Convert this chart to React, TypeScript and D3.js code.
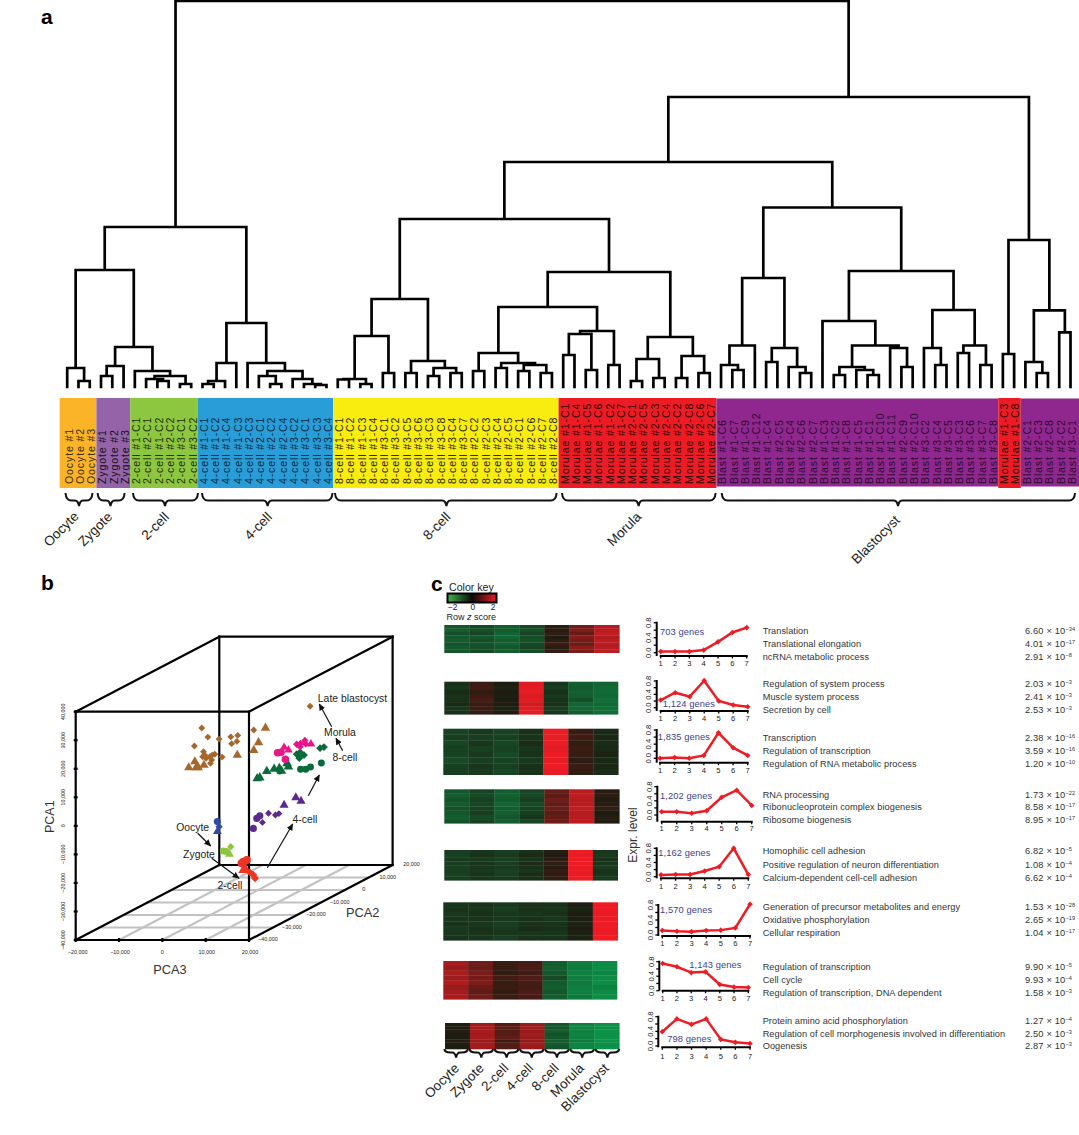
import * as d3 from 'd3'

const FONT = '"Liberation Sans", Arial, sans-serif'

// ---------- panel a: clustering ----------
const oocyteCells = ['Oocyte #1', 'Oocyte #2', 'Oocyte #3']
const zygoteCells = ['Zygote #1', 'Zygote #2', 'Zygote #3']
const twoCells = ['#1-C1', '#2-C1', '#1-C2', '#2-C2', '#3-C1', '#3-C2'].map(s => '2-cell ' + s)
const fourCells = ['#1-C1', '#1-C2', '#1-C4', '#1-C3', '#2-C3', '#2-C1', '#2-C2', '#2-C4', '#3-C2', '#3-C1', '#3-C3', '#3-C4'].map(s => '4-cell ' + s)
const eightCells = ['#1-C1', '#1-C2', '#1-C3', '#1-C4', '#3-C1', '#3-C2', '#3-C5', '#3-C6', '#3-C3', '#3-C8', '#3-C4', '#3-C7', '#2-C2', '#2-C3', '#2-C4', '#2-C5', '#2-C1', '#2-C6', '#2-C7', '#2-C8'].map(s => '8-cell ' + s)
const moruleCells = ['#1-C1', '#1-C4', '#1-C5', '#1-C6', '#1-C2', '#1-C7', '#2-C1', '#2-C5', '#2-C3', '#2-C4', '#2-C2', '#2-C8', '#2-C6', '#2-C7'].map(s => 'Morulae ' + s)
const blastCells = ['#1-C6', '#1-C7', '#1-C9', '#1-C12', '#1-C4', '#2-C5', '#2-C4', '#2-C6', '#2-C7', '#1-C3', '#1-C2', '#1-C8', '#1-C5', '#1-C1', '#1-C10', '#1-C11', '#2-C9', '#2-C10', '#3-C2', '#3-C4', '#3-C5', '#3-C3', '#3-C6', '#3-C7', '#3-C8'].map(s => 'Blast ' + s)
const strayMorule = ['#1-C3', '#1-C8'].map(s => 'Morulae ' + s)
const lastBlast = ['#2-C1', '#2-C3', '#2-C8', '#2-C2', '#3-C1'].map(s => 'Blast ' + s)

const cellGroups = [oocyteCells, zygoteCells, twoCells, fourCells, eightCells, moruleCells, blastCells, strayMorule, lastBlast]
const leafNames = cellGroups.flat()
const groupFill = ['#fbb327', '#9463a8', '#8dc63f', '#289dd8', '#f9ed0f', '#ed1c24', '#90278e', '#ed1c24', '#90278e']
const groupInk = ['#3a3010', '#1a1020', '#1e3010', '#0c2c44', '#2a2800', '#300808', '#2c0c30', '#300808', '#2c0c30']

// [height, child, child], leaves are indexes into leafNames
const tree: any = [386,
  [160,
    [117,
      [19, 0, [6, 1, 2]],
      [40,
        [21, [11, 3, 4], 5],
        [16, 6, [11, [8, 7, [6, 8, 9]], [3, 10, 11]]]]],
    [64,
      [24, [6, [3, 12, 13], 14], 15],
      [24, 16, [16, [11, 17, [3, 18, 19]], [8, 20, [3, 21, [2, 22, 23]]]]]]],
  [290,
    [225,
      [168,
        [88,
          [51, [8, [7.5, 24, 25], [3, 26, 27]], [14, 28, 29]],
          [26, [14, 30, 31], [19, [11, 32, 33], [14, 34, 35]]]],
        [115,
          [80,
            [34, [16, 36, 37], [24, [19, 38, 39], [22, [16, 40, 41], [14, 42, 43]]]],
            [56, [53, [32, 44, 45], [17, 46, 47]], [22, 48, 49]]],
          [50,
            [28, [6, 50, 51], [9, 52, 53]],
            [31, [9, 54, 55], [14, 56, 57]]]]],
      [179.5,
        [109,
          [41.5, [22, 58, [17, 59, 60]], 61],
          [39, [25, 62, 63], [20, 64, [14, 65, 66]]]],
        [116,
          [66, 67, [41.5, [20, [12, 68, 69], [17, 70, [12, 71, 72]]], [39, 73, [20, 74, 75]]]],
          [77, [39, 76, [22, 77, 78]], [41.5, [34, 79, 80], [22, 81, 82]]]]]],
    [147,
      [33, 83, 84],
      [76.6, [25, 85, [14, 86, 87]], [54.6, 88, 89]]]]]

const stageBraces = [
  { name: 'Oocyte', from: 65.5, to: 92.5, mid: 79 },
  { name: 'Zygote', from: 97.6, to: 124.6, mid: 110.5 },
  { name: '2-cell', from: 133, to: 198, mid: 165 },
  { name: '4-cell', from: 202, to: 332.5, mid: 267.6 },
  { name: '8-cell', from: 335, to: 556.6, mid: 446.4 },
  { name: 'Morula', from: 562, to: 715.6, mid: 638.6 },
  { name: 'Blastocyst', from: 721.7, to: 1075, mid: 898 },
]
const braceLabelAt = [[61, 529], [95, 529], [155, 526], [258, 526], [436.6, 526], [624, 529], [875.5, 539.5]]

// ---------- panel b: PCA ----------
type Pt = [number, number]
const oocytePts: Pt[] = [[12.7, 1.5], [13.1, -0.3], [12.7, -2]]
const zygotePts: Pt[] = [[14.1, -8.8], [14.8, -9], [15.8, -7.3], [15.5, -9.9]]
const twoCellCircles: Pt[] = [[19.5, -12], [18.7, -12.6], [18.3, -13.1]]
const twoCellTriangles: Pt[] = [[18.7, -15.5], [19.1, -14.9]]
const twoCellDiamonds: Pt[] = [[20.2, -16.3], [21, -17.2], [21.4, -18.4]]
const fourCellTriangles: Pt[] = [[28.1, 7.3], [30.8, 9.9], [32, 8.7]]
const fourCellDiamonds: Pt[] = [[24.5, 4.4], [26.1, 3.8], [26.9, 4.3], [23.1, 1.2]]
const fourCellCircles: Pt[] = [[21, -0.9], [21.8, 2.6], [22.5, 3.5]]
const eightTriangles: Pt[] = [[21.9, 16.6], [22.5, 16.9], [24.1, 19.1], [25.8, 19.9], [27, 20.2], [27.5, 19.2], [28.8, 21.9], [29.1, 20.7]]
const eightDiamonds: Pt[] = [[31, 25.1], [31.8, 25.8], [32.7, 24.8], [31.6, 23.7], [31.9, 24.6], [36.4, 27.2], [37.3, 27.6]]
const eightCircles: Pt[] = [[31.9, 19.8], [33.1, 19.8], [34.2, 20.6], [36.7, 22], [27.1, 19.2]]
const moruleCircles: Pt[] = [[26.6, 25.6], [27.4, 25.8], [28.4, 23.3]]
const moruleTriangles: Pt[] = [[28.1, 27.5], [29.1, 26.6], [34.3, 28.7]]
const moruleDiamonds: Pt[] = [[31, 28.6], [31.9, 28.9], [32.9, 29.9], [33.1, 28.7], [31.8, 27.7]]
const blastDiamonds: Pt[] = [[9.1, 34.3], [10.5, 31.1], [13.1, 30.4], [7.4, 28], [15.8, 31.2], [17.4, 31.7], [16, 28.8], [17.2, 29.6], [13.8, 24.1], [21.1, 33.6], [9.5, 26], [9.8, 24.8], [9.3, 24.2], [10.1, 23.7], [11, 24.2], [11.4, 23.1], [12.1, 25.1], [11.1, 21.9], [11.5, 24.8], [34.1, 41.9]]
const blastTriangles: Pt[] = [[6.1, 20.4], [7.5, 22.5], [7.8, 20.4], [8.3, 20.4], [9.6, 21.3], [17.3, 24.8], [21.1, 26.5], [22.2, 29.2], [23.8, 34.3]]

const squareDiamond = (d3 as any).symbolDiamond2 ?? d3.symbolDiamond

const pcaLayers: [Pt[], string, any, number][] = [
  [oocytePts.slice(0, 1), '#2f4ca0', d3.symbolCircle, 40],
  [oocytePts.slice(1, 2), '#2f4ca0', squareDiamond, 34],
  [oocytePts.slice(2), '#2f4ca0', d3.symbolTriangle, 34],
  [zygotePts.slice(0, 2), '#8cc63f', d3.symbolCircle, 40],
  [zygotePts.slice(2, 3), '#8cc63f', squareDiamond, 34],
  [zygotePts.slice(3), '#8cc63f', d3.symbolTriangle, 34],
  [twoCellCircles, '#ee3524', d3.symbolCircle, 52],
  [twoCellTriangles, '#ee3524', d3.symbolTriangle, 44],
  [twoCellDiamonds, '#ee3524', squareDiamond, 40],
  [fourCellTriangles, '#5b2a8c', d3.symbolTriangle, 36],
  [fourCellDiamonds, '#5b2a8c', squareDiamond, 30],
  [fourCellCircles, '#5b2a8c', d3.symbolCircle, 40],
  [eightTriangles, '#0a6b3a', d3.symbolTriangle, 40],
  [eightDiamonds, '#0a6b3a', squareDiamond, 38],
  [eightCircles, '#0a6b3a', d3.symbolCircle, 38],
  [moruleCircles, '#e8168b', d3.symbolCircle, 44],
  [moruleTriangles, '#e8168b', d3.symbolTriangle, 32],
  [moruleDiamonds, '#e8168b', squareDiamond, 34],
  [blastDiamonds, '#a5672c', squareDiamond, 30],
  [blastTriangles, '#a5672c', d3.symbolTriangle, 38],
]
const pca1Ticks = [-40, -30, -20, -10, 0, 10, 20, 30, 40]
const pca3Ticks = [-20, -10, 0, 10, 20]
const pca2Ticks = [-40, -30, -20, -10, 0, 10, 20]

const pcaNotes = [
  { text: 'Late blastocyst', x: 352.5, y: 698.3 },
  { text: 'Morula', x: 340, y: 732.7 },
  { text: '8-cell', x: 345, y: 757.7 },
  { text: '4-cell', x: 305, y: 819.3 },
  { text: 'Oocyte', x: 192.7, y: 827.3 },
  { text: 'Zygote', x: 199, y: 854 },
  { text: '2-cell', x: 230, y: 885 },
]
const pcaArrows = [
  [331.7, 726.7, 319.3, 704],
  [342.7, 750.7, 336, 738.3],
  [308.3, 795.7, 319.3, 775],
  [267.3, 867.7, 292.7, 824],
  [197.7, 833.3, 210.7, 846],
  [211.7, 858.3, 239, 878.3],
]

// ---------- panel c: clusters ----------
const stages = ['Oocyte', 'Zygote', '2-cell', '4-cell', '8-cell', 'Morula', 'Blastocyst']

// one list per stage, one value per row block
const heat1 = [
  [-0.9, -1.0, -0.8, -0.9, -1.0, -0.85, -0.95, -0.9],
  [-0.7, -0.8, -0.65, -0.9, -0.75, -0.85, -0.8, -0.7],
  [-1.0, -0.95, -1.1, -1.15, -1.0, -1.05, -0.9, -1.0],
  [-0.7, -0.8, -0.6, -0.75, -0.85, -0.7, -0.65, -0.75],
  [0.15, 0.1, 0.2, 0.05, 0.15, 0.3, 0.1, 0.2],
  [0.8, 0.95, 0.7, 1.0, 0.85, 0.75, 1.05, 0.9],
  [1.45, 1.5, 1.6, 1.4, 1.55, 1.5, 1.45, 1.55],
]
const heat2 = [
  [-0.3, -0.4, -0.25, -0.35, -0.3, -0.2, -0.4, -0.3],
  [0.3, 0.35, 0.2, 0.3, 0.4, 0.25, 0.3, 0.2],
  [0.0, -0.1, 0.05, -0.05, 0.0, 0.05, -0.1, 0.0],
  [1.85, 1.9, 1.95, 1.8, 1.9, 1.7, 1.85, 1.9],
  [-0.4, -0.5, -0.3, -0.45, -0.35, -0.3, -0.5, -0.4],
  [-1.0, -0.95, -1.05, -1.0, -0.8, -1.1, -1.15, -1.0],
  [-1.1, -1.2, -1.25, -1.15, -1.3, -1.2, -1.3, -1.25],
]
const heat3 = [
  [-0.6, -0.5, -0.65, -0.55, -0.6, -0.7, -0.55, -0.5],
  [-0.45, -0.5, -0.4, -0.55, -0.45, -0.5, -0.4, -0.45],
  [-0.6, -0.55, -0.65, -0.6, -0.7, -0.6, -0.55, -0.65],
  [-0.3, -0.35, -0.25, -0.4, -0.35, -0.45, -0.3, -0.35],
  [2.0, 1.95, 2.0, 1.9, 2.0, 1.95, 2.0, 1.95],
  [0.25, 0.35, 0.2, 0.3, 0.25, 0.15, 0.3, 0.2],
  [-0.2, -0.15, -0.25, -0.2, -0.1, -0.2, -0.15, -0.25],
]
const heat4 = [
  [-0.9, -1.0, -0.85, -0.95, -0.8, -0.9, -1.0, -0.85],
  [-0.6, -0.7, -0.55, -0.65, -0.6, -0.5, -0.7, -0.6],
  [-1.0, -1.05, -0.95, -1.1, -1.0, -1.05, -0.9, -1.0],
  [-0.6, -0.65, -0.5, -0.7, -0.6, -0.55, -0.4, -0.65],
  [0.7, 0.6, 0.8, 0.65, 0.75, 0.6, 0.7, 0.8],
  [1.5, 1.55, 1.45, 1.5, 1.6, 1.45, 1.5, 1.55],
  [0.1, 0.15, 0.05, 0.1, 0.2, 0.0, 0.1, 0.05],
]
const heat5 = [
  [-0.5, -0.55, -0.45, -0.5, -0.55, -0.5, -0.6, -0.5],
  [-0.4, -0.3, -0.45, -0.35, -0.4, -0.45, -0.35, -0.4],
  [-0.5, -0.45, -0.55, -0.5, -0.45, -0.55, -0.5, -0.45],
  [-0.3, -0.2, -0.35, -0.25, -0.3, -0.4, -0.25, -0.3],
  [0.1, 0.05, 0.15, 0.2, 0.1, 0.25, 0.15, 0.2],
  [2.0, 1.95, 2.0, 2.0, 1.95, 2.0, 1.95, 2.0],
  [-0.4, -0.45, -0.35, -0.4, -0.5, -0.35, -0.4, -0.45],
]
const heat6 = [
  [-0.4, -0.35, -0.45, -0.4, -0.3, -0.45, -0.4, -0.35],
  [-0.35, -0.4, -0.3, -0.35, -0.4, -0.3, -0.35, -0.4],
  [-0.45, -0.5, -0.4, -0.45, -0.5, -0.45, -0.4, -0.5],
  [-0.35, -0.3, -0.4, -0.3, -0.35, -0.25, -0.4, -0.3],
  [-0.35, -0.4, -0.3, -0.4, -0.35, -0.3, -0.4, -0.35],
  [-0.05, -0.1, 0.0, -0.05, -0.1, 0.0, -0.05, -0.1],
  [2.0, 2.0, 1.95, 2.0, 2.0, 2.0, 1.95, 2.0],
]
const heat7 = [
  [1.3, 1.2, 1.35, 1.25, 1.4, 1.2, 1.3, 1.35],
  [0.8, 0.75, 0.9, 0.85, 0.95, 0.7, 0.65, 0.8],
  [0.3, 0.25, 0.2, 0.35, 0.25, 0.3, 0.2, 0.3],
  [0.4, 0.45, 0.35, 0.5, 0.4, 0.35, 0.45, 0.4],
  [-1.0, -1.05, -0.9, -0.7, -0.95, -1.0, -0.9, -1.0],
  [-1.5, -1.45, -1.55, -1.5, -1.45, -1.5, -1.55, -1.45],
  [-1.7, -1.75, -1.6, -1.7, -1.75, -1.55, -1.7, -1.75],
]
const heat8 = [
  [0.05, 0.0, 0.1, 0.05, 0.0, 0.1, 0.05, 0.0],
  [1.25, 1.3, 1.35, 1.25, 1.3, 1.2, 1.3, 1.25],
  [0.55, 0.6, 0.5, 0.55, 0.65, 0.3, 0.55, 0.5],
  [1.2, 1.25, 1.15, 1.3, 1.2, 1.15, 1.25, 1.2],
  [-0.9, -0.85, -1.0, -0.8, -0.9, -1.0, -0.95, -0.85],
  [-1.55, -1.6, -1.5, -1.6, -1.55, -1.45, -1.6, -1.6],
  [-1.8, -1.75, -1.85, -1.8, -1.8, -1.85, -1.75, -1.8],
]
const heatMatrices = [heat1, heat2, heat3, heat4, heat5, heat6, heat7, heat8]
const heatBoxes = [
  [444.3, 619.3, 625, 652.7], [444.3, 618, 681.7, 714.3], [443.3, 618.3, 728.7, 774.7], [444.3, 619.3, 789.3, 823.3],
  [444.3, 617.7, 850, 880.3], [443.3, 617.7, 902.3, 940.3], [443.3, 617, 961, 999.3], [445, 619.3, 1023, 1049],
]

const profile1 = [0.03, 0.03, 0.03, 0.07, 0.29, 0.54, 0.67]
const profile2 = [0.23, 0.45, 0.33, 0.81, 0.2, 0.08, 0.03]
const profile3 = [0.0, 0.02, 0.0, 0.08, 0.72, 0.3, 0.08]
const profile4 = [0.09, 0.09, 0.05, 0.12, 0.5, 0.7, 0.27]
const profile5 = [0.05, 0.06, 0.06, 0.16, 0.28, 0.8, 0.06]
const profile6 = [0.12, 0.1, 0.09, 0.12, 0.13, 0.19, 0.82]
const profile7 = [0.75, 0.66, 0.5, 0.52, 0.17, 0.1, 0.09]
const profile8 = [0.39, 0.74, 0.59, 0.74, 0.18, 0.1, 0.07]
const profiles = [profile1, profile2, profile3, profile4, profile5, profile6, profile7, profile8]
const geneCounts = ['703 genes', '1,124 genes', '1,835 genes', '1,202 genes', '1,162 genes', '1,570 genes', '1,143 genes', '798 genes']
const stageTicks = [1, 2, 3, 4, 5, 6, 7]
const exprTicks = [0, 0.2, 0.4, 0.6, 0.8]

// axisX, first, last, zero, y08, bottom, labelY, countX, countY
const profileFrames = [
  [656.7, 660.7, 746.7, 652.7, 622.7, 656, 663.3, 660, 631.7],
  [656.7, 660.7, 747.7, 707.7, 681, 711, 718.3, 662.7, 704],
  [656.7, 660, 747.7, 758.3, 730, 762.7, 770.7, 657.7, 736.7],
  [657.3, 661.7, 751.7, 815, 786.7, 821.7, 828.3, 660, 795.7],
  [656.7, 661, 748.3, 876.7, 848.3, 878.3, 886, 658.3, 852.3],
  [658.3, 662.3, 750, 935, 905, 936, 943.3, 660, 910],
  [659.3, 662.7, 748.3, 990.7, 961.7, 990.7, 998.3, 689.3, 964.7],
  [658.3, 662.3, 750, 1046, 1016.7, 1047.3, 1056, 667.3, 1038.7],
]

const goTerms = [
  ['Translation', 'Translational elongation', 'ncRNA metabolic process'],
  ['Regulation of system process', 'Muscle system process', 'Secretion by cell'],
  ['Transcription', 'Regulation of transcription', 'Regulation of RNA metabolic process'],
  ['RNA processing', 'Ribonucleoprotein complex biogenesis', 'Ribosome biogenesis'],
  ['Homophilic cell adhesion', 'Positive regulation of neuron differentiation', 'Calcium-dependent cell-cell adhesion'],
  ['Generation of precursor metabolites and energy', 'Oxidative phosphorylation', 'Cellular respiration'],
  ['Regulation of transcription', 'Cell cycle', 'Regulation of transcription, DNA dependent'],
  ['Protein amino acid phosphorylation', 'Regulation of cell morphogenesis involved in differentiation', 'Oogenesis'],
]
const goMantissa = [
  ['6.60', '4.01', '2.91'], ['2.03', '2.41', '2.53'], ['2.38', '3.59', '1.20'], ['1.73', '8.58', '8.95'],
  ['6.82', '1.08', '6.62'], ['1.53', '2.65', '1.04'], ['9.90', '9.93', '1.58'], ['1.27', '2.50', '2.87'],
]
const goExponent = [
  ['\u221234', '\u221217', '\u22128'], ['\u22123', '\u22123', '\u22123'], ['\u221216', '\u221216', '\u221210'], ['\u221222', '\u221217', '\u221217'],
  ['\u22125', '\u22124', '\u22124'], ['\u221228', '\u221219', '\u221217'], ['\u22125', '\u22124', '\u22123'], ['\u22124', '\u22123', '\u22123'],
]
const goRowY = [
  [631, 643.7, 656.7], [684, 696.7, 709.7], [737.3, 750.7, 763.3], [794.3, 807, 819.3],
  [851, 864.3, 877.3], [907, 919.7, 932.3], [966.7, 979.3, 992.7], [1020.7, 1033.3, 1046],
]
const stageLabelX = [456, 480.7, 505.3, 530, 555.7, 580.7, 605.7]

const bracePath = (x0: number, x1: number, mid: number, top: number, flat: number, tip: number) => {
  const p = d3.path()
  const r = Math.min(4, (x1 - x0) / 5)
  p.moveTo(x0, top)
  p.quadraticCurveTo(x0 + 0.5, flat, x0 + r * 1.5, flat)
  p.lineTo(mid - r, flat)
  p.quadraticCurveTo(mid - 1, flat, mid, tip)
  p.quadraticCurveTo(mid + 1, flat, mid + r, flat)
  p.lineTo(x1 - r * 1.5, flat)
  p.quadraticCurveTo(x1 - 0.5, flat, x1, top)
  return p.toString()
}

const App = () => {
  // dendrogram
  const leafX = d3.scaleLinear().domain([0, leafNames.length - 1]).range([67.2, 1070.5])
  const heightY = d3.scaleLinear().domain([0, 386]).range([387, 1])
  const step = leafX(1) - leafX(0)
  const root: any = d3.hierarchy(tree, d => (Array.isArray(d) ? d.slice(1) : null))
  root.eachAfter((n: any) => {
    if (n.children) {
      n.px = (n.children[0].px + n.children[n.children.length - 1].px) / 2
      n.py = heightY(n.data[0])
    } else {
      n.px = leafX(n.data)
      n.py = heightY(0)
    }
  })
  const branches = d3.path()
  root.each((n: any) => {
    if (!n.children) return
    branches.moveTo(n.children[0].px, n.py)
    branches.lineTo(n.children[n.children.length - 1].px, n.py)
    n.children.forEach((c: any) => {
      branches.moveTo(c.px, n.py)
      branches.lineTo(c.px, c.py)
    })
  })

  let offset = 0
  const bands = cellGroups.map((g, i) => {
    const first = offset
    offset += g.length
    const x0 = i === 0 ? 59.7 : leafX(first) - step / 2 + 1
    const x1 = i === cellGroups.length - 1 ? 1079 : leafX(first + g.length - 1) + step / 2 + 1
    return { x0, x1, fill: groupFill[i], ink: groupInk[i], first, cells: g, dark: groupFill[i] === '#90278e' }
  })

  // pca box
  const pca3X = d3.scaleLinear().domain([-20, 20]).range([75.7, 249])
  const pca1Y = d3.scaleLinear().domain([-40, 40]).range([940, 711.7])
  const pca2Dx = d3.scaleLinear().domain([-40, 20]).range([0, 143.6])
  const pca2Dy = d3.scaleLinear().domain([-40, 20]).range([0, -75])
  const project = (a: number, b: number, c: number): [number, number] => [pca3X(a) + pca2Dx(c), pca1Y(b) + pca2Dy(c)]
  const boxEdges = [
    [[-20, 40, 20], [20, 40, 20]], [[-20, 40, 20], [-20, -40, 20]], [[20, 40, 20], [20, -40, 20]], [[-20, -40, 20], [20, -40, 20]],
    [[-20, 40, -40], [-20, 40, 20]], [[20, 40, -40], [20, 40, 20]], [[-20, -40, -40], [-20, -40, 20]], [[20, -40, -40], [20, -40, 20]],
    [[-20, 40, -40], [20, 40, -40]], [[-20, -40, -40], [20, -40, -40]], [[-20, 40, -40], [-20, -40, -40]], [[20, 40, -40], [20, -40, -40]],
  ].map(([a, b]) => [project(a[0], a[1], a[2]), project(b[0], b[1], b[2])])
  const floor = [
    ...pca2Ticks.slice(1, -1).map(c => [project(-20, -40, c), project(20, -40, c)]),
    ...pca3Ticks.slice(1, -1).map(a => [project(a, -40, -40), project(a, -40, 20)]),
  ]
  const heatColor = d3.scaleLinear<string>().domain([-2, 0, 2]).range(['#0a9e4e', '#1c1c10', '#ed1c24'])
  const keyColor = d3.scaleLinear<string>().domain([-2, 0, 2]).range(['#3fb54a', '#0a0a0a', '#ed1c24'])
  const keyX = d3.scaleLinear().domain([-2, 2]).range([452.7, 493])
  const rowIdx = d3.range(8)
  const stageBand = d3.scaleBand<string>().domain(stages).range([443.5, 620])
  const tickText = (t: number) => d3.format(',')(t * 1000).replace('-', '\u2212')

  return (
    <svg width={1079} height={1135} style={{ position: 'absolute', left: 0, top: 0, background: '#fff' }} fontFamily={FONT}>
      <defs>
        <marker id="head" viewBox="0 0 10 10" refX="9" refY="5" markerWidth="7" markerHeight="7" markerUnits="userSpaceOnUse" orient="auto">
          <path d="M0,0.5L10,5L0,9.5z" fill="#111" />
        </marker>
        <linearGradient id="key">
          {[-2, -1, 0, 1, 2].map(v => (
            <stop key={v} offset={`${(v + 2) * 25}%`} stopColor={keyColor(v)} />
          ))}
        </linearGradient>
      </defs>

      <text x={41} y={24} fontSize={21} fontWeight="bold">a</text>
      <text x={41} y={590} fontSize={21} fontWeight="bold">b</text>
      <text x={431} y={591} fontSize={21} fontWeight="bold">c</text>

      {/* dendrogram */}
      <path d={branches.toString()} fill="none" stroke="#000" strokeWidth={2.7} strokeLinecap="square" />
      {bands.map((b, i) => (
        <g key={i}>
          <rect x={b.x0} width={b.x1 - b.x0} y={b.dark ? 398.5 : 398} height={b.dark ? 88 : 90} fill={b.fill} />
          {b.cells.map((c, j) => (
            <text
              key={c + j}
              transform={`translate(${leafX(b.first + j) + 1.5},484) rotate(-90)`}
              dy="0.36em"
              fontSize={10.6}
              letterSpacing={0.85}
              fill={b.ink}
            >
              {c}
            </text>
          ))}
        </g>
      ))}
      {stageBraces.map((b, i) => (
        <g key={b.name}>
          <path d={bracePath(b.from, b.to, b.mid, 493, 500.5, 506)} fill="none" stroke="#111" strokeWidth={2} />
          <text
            transform={`translate(${braceLabelAt[i][0]},${braceLabelAt[i][1]}) rotate(-45)`}
            textAnchor="middle"
            dy="0.35em"
            fontSize={13.6}
            fill="#222"
          >
            {b.name}
          </text>
        </g>
      ))}

      {/* pca */}
      {floor.map((l, i) => (
        <line key={i} x1={l[0][0]} y1={l[0][1]} x2={l[1][0]} y2={l[1][1]} stroke="#c2c2c2" strokeWidth={2.1} />
      ))}
      {boxEdges.map((l, i) => (
        <line key={i} x1={l[0][0]} y1={l[0][1]} x2={l[1][0]} y2={l[1][1]} stroke="#000" strokeWidth={2.2} strokeLinecap="square" />
      ))}
      {pca1Ticks.map(t => {
        const [px, py] = project(-20, t, -40)
        return (
          <g key={t}>
            <line x1={px - 2} x2={px + 2} y1={py} y2={py} stroke="#000" strokeWidth={2.2} />
            <text transform={`translate(${px - 13},${py}) rotate(-90)`} textAnchor="middle" fontSize={5.4} dy="0.35em" fill="#222">
              {tickText(t)}
            </text>
          </g>
        )
      })}
      {pca3Ticks.map(t => {
        const [px, py] = project(t, -40, -40)
        return (
          <g key={t}>
            <line x1={px} x2={px} y1={py - 2} y2={py + 2} stroke="#000" strokeWidth={2.2} />
            <text x={px + (t === -20 ? 2 : t === 0 ? 0 : 1)} y={py + 14} textAnchor="middle" fontSize={5.4} fill="#222">
              {tickText(t)}
            </text>
          </g>
        )
      })}
      {pca2Ticks.map(t => {
        const [px, py] = project(20, -40, t)
        return (
          <text key={t} x={px + 19} y={py - 0.5} textAnchor="middle" dy="0.35em" fontSize={5.4} fill="#222">
            {tickText(t)}
          </text>
        )
      })}
      {pcaLayers.map(([pts, color, shape, size], i) => {
        const d = d3.symbol().type(shape).size(size)()
        return pts.map((p, j) => {
          const [px, py] = project(p[0], p[1], -40)
          return <path key={`${i}-${j}`} d={d as string} transform={`translate(${px},${py})`} fill={color} />
        })
      })}
      {pcaArrows.map((a, i) => (
        <line key={i} x1={a[0]} y1={a[1]} x2={a[2]} y2={a[3]} stroke="#111" strokeWidth={1.2} markerEnd="url(#head)" />
      ))}
      {pcaNotes.map(n => (
        <text key={n.text} x={n.x} y={n.y} textAnchor="middle" dy="0.35em" fontSize={10.4} fill="#222">{n.text}</text>
      ))}
      <text transform="translate(50,816.7) rotate(-90)" textAnchor="middle" dy="0.35em" fontSize={12.5} fill="#333">PCA1</text>
      <text x={170} y={970} textAnchor="middle" dy="0.35em" fontSize={12.8} fill="#333">PCA3</text>
      <text x={362.7} y={912.7} textAnchor="middle" dy="0.35em" fontSize={12.8} fill="#333">PCA2</text>

      {/* color key */}
      <text x={449} y={590.5} fontSize={10.6} fill="#222">Color key</text>
      <rect x={447.5} y={593.5} width={49} height={9} fill="url(#key)" stroke="#000" strokeWidth={2} />
      {[-2, 0, 2].map(t => (
        <text key={t} x={keyX(t)} y={610} textAnchor="middle" fontSize={8.4} fill="#222">
          {t < 0 ? '\u22122' : t}
        </text>
      ))}
      <text x={446.5} y={620} fontSize={9} fill="#222">
        Row <tspan fontStyle="italic">z</tspan> score
      </text>

      {/* heat maps */}
      {heatMatrices.map((m, h) => {
        const [x0, x1, y0, y1] = heatBoxes[h]
        const cx = d3.scaleBand<string>().domain(stages).range([x0, x1])
        const cy = d3.scaleBand<number>().domain(rowIdx).range([y0, y1])
        return (
          <g key={h}>
            {stages.map((s, c) =>
              rowIdx.map(r => (
                <rect
                  key={`${s}-${r}`}
                  x={cx(s)}
                  y={cy(r)}
                  width={cx.bandwidth() + 0.3}
                  height={cy.bandwidth() + 0.3}
                  fill={heatColor(m[c][r])}
                />
              )),
            )}
          </g>
        )
      })}
      {stages.map((s, i) => {
        const a = stageBand(s) as number
        const w = stageBand.bandwidth()
        return (
          <g key={s}>
            <path d={bracePath(a + 0.8, a + w - 0.8, a + w / 2, 1049, 1052.5, 1057.5)} fill="none" stroke="#111" strokeWidth={2} />
            <text
              transform={`translate(${stageLabelX[i] + 4},1069) rotate(-45)`}
              textAnchor="end"
              fontSize={13.4}
              fill="#222"
            >
              {s}
            </text>
          </g>
        )
      })}

      {/* expression profiles */}
      <text transform="translate(633,835) rotate(-90)" textAnchor="middle" dy="0.35em" fontSize={12} fill="#333">Expr. level</text>
      {profiles.map((vals, i) => {
        const [axisX, first, last, zero, y08, bottom, labelY, countX, countY] = profileFrames[i]
        const x = d3.scalePoint<number>().domain(stageTicks).range([first, last])
        const y = d3.scaleLinear().domain([0, 0.8]).range([zero, y08])
        const line = d3.line<number>().x((_, j) => x(stageTicks[j]) as number).y(v => y(v))
        const marker = d3.symbol().type(squareDiamond).size(20)() as string
        return (
          <g key={i}>
            <line x1={axisX} x2={axisX} y1={y(0.8) - 1} y2={bottom} stroke="#000" strokeWidth={2} />
            {exprTicks.map(t => (
              <line key={t} x1={axisX - 3} x2={axisX} y1={y(t)} y2={y(t)} stroke="#000" strokeWidth={1.3} />
            ))}
            {exprTicks.filter((_, k) => k % 2 === 0).map(t => (
              <text key={t} transform={`translate(${axisX - 8},${y(t)}) rotate(-90)`} textAnchor="middle" dy="0.35em" fontSize={7.6} fill="#222">
                {t.toFixed(1)}
              </text>
            ))}
            <line x1={first - 1} x2={last + 1} y1={bottom} y2={bottom} stroke="#000" strokeWidth={2} />
            {stageTicks.map(t => (
              <g key={t}>
                <line x1={x(t)} x2={x(t)} y1={bottom} y2={bottom + 2.5} stroke="#000" strokeWidth={1.3} />
                <text x={x(t)} y={labelY} textAnchor="middle" dy="0.35em" fontSize={7.6} fill="#222">{t}</text>
              </g>
            ))}
            <path d={line(vals) as string} fill="none" stroke="#ee1c25" strokeWidth={2.5} />
            {vals.map((v, j) => (
              <path key={j} d={marker} transform={`translate(${x(stageTicks[j])},${y(v)})`} fill="#ee1c25" />
            ))}
            <text x={countX} y={countY} dy="0.35em" fontSize={9.3} letterSpacing={0.1} fill="#3b3f8f">{geneCounts[i]}</text>
          </g>
        )
      })}

      {/* enrichment */}
      {goTerms.map((terms, i) =>
        terms.map((t, j) => (
          <g key={t + i}>
            <text x={762.7} y={goRowY[i][j]} dy="0.35em" fontSize={9.2} letterSpacing={0.05} fill="#333">{t}</text>
            <text x={1025} y={goRowY[i][j]} dy="0.35em" fontSize={9.3} letterSpacing={0.15} fill="#333" xmlSpace="preserve">
              {goMantissa[i][j]} {'\u00d7'} 10
              <tspan fontSize={5.6} dy="-3">{goExponent[i][j]}</tspan>
            </text>
          </g>
        )),
      )}
    </svg>
  )
}

export default App
